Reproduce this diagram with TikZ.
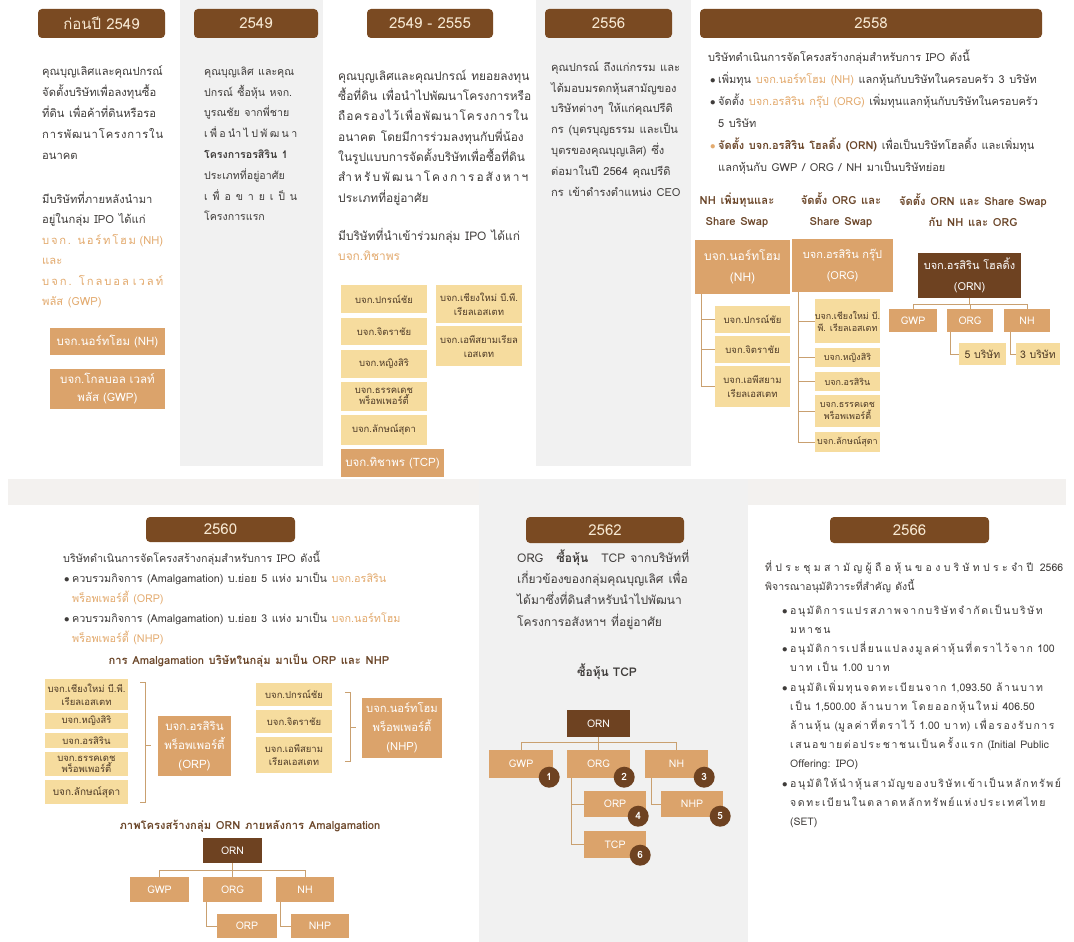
\documentclass[tikz,border=0pt]{standalone}
\usepackage{fontspec}
\setmainfont[Script=Thai]{Loma}
\newfontfamily\wfont[Script=Thai,LetterSpace=15]{Loma}
\definecolor{hdr}{HTML}{7A4A22}
\definecolor{hdrtxt}{HTML}{F7E8D2}
\definecolor{orn}{HTML}{6E4221}
\definecolor{obox}{HTML}{DBA36B}
\definecolor{ybox}{HTML}{F6DC9E}
\definecolor{hl}{HTML}{E3AA6E}
\definecolor{body}{HTML}{3F3C3A}
\definecolor{ttl}{HTML}{6A4528}
\definecolor{ln}{HTML}{C9A070}
\definecolor{pgray}{HTML}{F1F1F1}
\definecolor{band}{HTML}{F3F1EF}
\definecolor{ytxt}{HTML}{4E3A26}
\newcommand\boxnode[7]{\node[#1, minimum width={(#5-#3)*1pt}, minimum height={(#6-#4)*1pt}] (#2) at ({(#3+#5)/2},{(#4+#6)/2}) {#7};}
\newcommand\tnode[7][]{\node[txt, font={\fontsize{#5}{#6}\selectfont#1\spaceskip=0.42em plus 0.1em minus 0.05em\relax}] (#2) at (#3,{#4+3-0.7*#6}) {\strut #7};}
\newcommand\spread[2]{\makebox[#1][s]{\spaceskip=0pt plus 1fil\relax #2}}
\newcommand\blt{\makebox[8pt][l]{$\bullet$}}
\newcommand\hi[1]{\textcolor{hl}{#1}}
\newcommand\lat[1]{{\rmfamily #1}}
\tikzset{
 hdrbox/.style={fill=hdr, rounded corners=4pt, text=hdrtxt, font=\fontsize{15}{17}\selectfont, inner sep=0pt},
 obx/.style={fill=obox, text=white, inner sep=0pt, align=center, font=\fontsize{10.5}{17}\selectfont},
 ybx/.style={fill=ybox, text=ytxt, inner sep=0pt, align=center, font=\fontsize{9.5}{14}\selectfont},
 sybx/.style={ybx, font=\fontsize{9}{12}\selectfont},
 dkbx/.style={fill=orn, text=white, inner sep=0pt, align=center, font=\fontsize{10.5}{17}\selectfont},
 conn/.style={draw=ln, line width=1pt},
 txt/.style={anchor=north west, inner sep=0pt, align=left, text=body},
 ttlnode/.style={inner sep=0pt, align=center, text=ttl, font={\bfseries\fontsize{11.2}{21}\selectfont\spaceskip=0.42em plus 0.1em\relax}},
 num/.style={circle, fill=orn, text=white, inner sep=0pt, minimum size=21pt, font=\bfseries\fontsize{10}{12}\selectfont},
}
\begin{document}
\begin{tikzpicture}[x=1pt,y=-1pt]
\useasboundingbox (0,0) rectangle (1074,942);
% panels
\fill[white] (0,0) rectangle (1074,942);
\fill[pgray] (180,0) rectangle (323,466);
\fill[pgray] (536,0) rectangle (691,466);
\fill[band] (8,479) rectangle (1066,505);
\fill[pgray] (479,479) rectangle (748,942);

% ---------- column 1 ----------
\boxnode{hdrbox}{h1}{38}{9}{165}{38}{ก่อนปี 2549}
\tnode{t1a}{42}{72}{11.2}{21}{คุณบุญเลิศและคุณปกรณ์\\จัดตั้งบริษัทเพื่อลงทุนซื้อ\\ที่ดิน เพื่อค้าที่ดินหรือรอ\\\spread{121pt}{ก า ร พั ฒ น า โ ค ร ง ก า ร ใ น}\\อนาคต}
\tnode{t1b}{42}{200}{11.2}{20.5}{มีบริษัทที่ภายหลังนำมา\\อยู่ในกลุ่ม IPO ได้แก่\\\hi{\spread{121pt}{บ จ ก . น อ ร์ ท โ ฮ ม\ \ (NH)}}\\\hi{และ}\\\hi{\spread{121pt}{บ จ ก . โ ก ล บ อ ล\ \ เ ว ล ท์}}\\\hi{พลัส (GWP)}}
\boxnode{obx,font=\fontsize{11.5}{18}\selectfont}{nhA}{50}{328}{165}{355}{บจก.นอร์ทโฮม (NH)}
\boxnode{obx,font=\fontsize{11.5}{18}\selectfont}{gwpA}{50}{369}{165}{409}{บจก.โกลบอล เวลท์\\พลัส (GWP)}

% ---------- column 2 ----------
\boxnode{hdrbox}{h2}{194}{9}{318}{38}{2549}
\tnode{t2}{204}{72}{10.6}{20.8}{คุณบุญเลิศ และคุณ\\ปกรณ์ ซื้อหุ้น หจก.\\บูรณชัย จากพี่ชาย\\\spread{93pt}{เ พื่ อ นำ ไ ป พั ฒ น า}\\\textbf{โครงการอรสิริน 1}\\ประเภทที่อยู่อาศัย\\\spread{93pt}{เ พื่ อ ข า ย เ ป็ น}\\โครงการแรก}

% ---------- column 3 ----------
\boxnode{hdrbox}{h3}{367}{9}{493}{38}{2549 - 2555}
\tnode{t3a}{338}{77}{11.9}{20.3}{คุณบุญเลิศและคุณปกรณ์ ทยอยลงทุน\\ซื้อที่ดิน เพื่อนำไปพัฒนาโครงการหรือ\\\spread{190pt}{ถื อ ค ร อ ง ไ ว้ เ พื่ อ พั ฒ น า โ ค ร ง ก า ร ใ น}\\อนาคต โดยมีการร่วมลงทุนกับพี่น้อง\\ในรูปแบบการจัดตั้งบริษัทเพื่อซื้อที่ดิน\\\spread{190pt}{สำ ห รั บ พั ฒ น า โ ค ง ก า ร อ สั ง ห า ฯ}\\ประเภทที่อยู่อาศัย}
\tnode{t3b}{338}{237}{11.9}{20}{มีบริษัทที่นำเข้าร่วมกลุ่ม IPO ได้แก่\\\hi{บจก.ทิชาพร}}
\boxnode{ybx}{c3a}{341}{285}{427}{313}{บจก.ปกรณ์ชัย}
\boxnode{ybx}{c3b}{341}{318}{427}{345}{บจก.จิตราชัย}
\boxnode{ybx}{c3c}{341}{350}{427}{378}{บจก.หญิงสิริ}
\boxnode{ybx,font=\fontsize{9.5}{11}\selectfont}{c3d}{341}{382}{427}{411}{บจก.ธรรคเดช\\พร็อพเพอร์ตี้}
\boxnode{ybx}{c3e}{341}{415}{427}{445}{บจก.ลักษณ์สุดา}
\boxnode{obx,font=\fontsize{11.5}{18}\selectfont}{c3f}{341}{449}{444}{477}{บจก.ทิชาพร (TCP)}
\boxnode{ybx}{c3g}{436}{285}{522}{323}{บจก.เชียงใหม่ บี.พี.\\เรียลเอสเตท}
\boxnode{ybx}{c3h}{436}{326}{522}{366}{บจก.เอพีสยามเรียล\\เอสเตท}

% ---------- column 4 ----------
\boxnode{hdrbox}{h4}{545}{9}{672}{38}{2556}
\tnode{t4}{551}{68}{11.1}{20.8}{คุณปกรณ์ ถึงแก่กรรม และ\\ได้มอบมรดกหุ้นสามัญของ\\บริษัทต่างๆ ให้แก่คุณปรีดิ\\กร (บุตรบุญธรรม และเป็น\\บุตรของคุณบุญเลิศ) ซึ่ง\\ต่อมาในปี 2564 คุณปรีดิ\\กร เข้าดำรงตำแหน่ง CEO}

% ---------- column 5 ----------
\boxnode{hdrbox}{h5}{700}{9}{1042}{38}{2558}
\tnode{t5}{708}{58}{11}{22}{บริษัทดำเนินการจัดโครงสร้างกลุ่มสำหรับการ IPO ดังนี้\\
\hspace*{2pt}\blt เพิ่มทุน \hi{บจก.นอร์ทโฮม (NH)} แลกหุ้นกับบริษัทในครอบครัว 3 บริษัท\\
\hspace*{2pt}\blt จัดตั้ง \hi{บจก.อรสิริน กรุ๊ป (ORG)} เพิ่มทุนแลกหุ้นกับบริษัทในครอบครัว\\
\hspace*{10pt}5 บริษัท\\
\hspace*{2pt}\hi{\blt}\textbf{\textcolor{ttl}{จัดตั้ง บจก.อรสิริน โฮลดิ้ง (ORN)}} เพื่อเป็นบริษัทโฮลดิ้ง และเพิ่มทุน\\
\hspace*{10pt}แลกหุ้นกับ GWP / ORG / NH มาเป็นบริษัทย่อย}
\node[ttlnode] (s1) at (737,210) {NH เพิ่มทุนและ\\Share Swap};
\node[ttlnode] (s2) at (841,210) {จัดตั้ง ORG และ\\Share Swap};
\node[ttlnode] (s3) at (973,210) {จัดตั้ง ORN และ Share Swap\\กับ NH และ ORG};

% NH tree
\boxnode{obx,font=\fontsize{12}{21}\selectfont}{nhB}{695}{240}{790}{294}{บจก.นอร์ทโฮม\\(NH)}
\boxnode{ybx}{nb1}{715}{306}{790}{333}{บจก.ปกรณ์ชัย}
\boxnode{ybx}{nb2}{715}{336}{790}{363}{บจก.จิตราชัย}
\boxnode{ybx}{nb3}{715}{366}{790}{407}{บจก.เอพีสยาม\\เรียลเอสเตท}
\draw[conn] ([xshift=7pt]nhB.south west) |- (nb1.west);
\draw[conn] ([xshift=7pt]nhB.south west) |- (nb2.west);
\draw[conn] ([xshift=7pt]nhB.south west) |- (nb3.west);

% ORG tree
\boxnode{obx,font=\fontsize{11}{21}\selectfont}{orgB}{792}{239}{893}{292}{บจก.อรสิริน กรุ๊ป\\(ORG)}
\boxnode{sybx}{ob1}{815}{299}{880}{343}{บจก.เชียงใหม่ บี.\\พี. เรียลเอสเตท}
\boxnode{sybx}{ob2}{815}{348}{880}{367}{บจก.หญิงสิริ}
\boxnode{sybx}{ob3}{815}{372}{880}{391}{บจก.อรสิริน}
\boxnode{sybx}{ob4}{815}{395}{880}{427}{บจก.ธรรคเดช\\พร็อพเพอร์ตี้}
\boxnode{sybx}{ob5}{815}{432}{880}{452}{บจก.ลักษณ์สุดา}
\foreach \c in {ob1,ob2,ob3,ob4,ob5}{\draw[conn] ([xshift=7pt]orgB.south west) |- (\c.west);}

% ORN tree
\boxnode{dkbx,font=\fontsize{11}{21}\selectfont}{ornB}{918}{253}{1021}{298}{บจก.อรสิริน โฮลดิ้ง\\(ORN)}
\boxnode{obx}{gwpB}{889}{309}{937}{332}{GWP}
\boxnode{obx}{orgC}{947}{309}{993}{332}{ORG}
\boxnode{obx}{nhC}{1004}{309}{1050}{332}{NH}
\draw[conn] (ornB.south) -- ++(0,6) -| (gwpB.north);
\draw[conn] (ornB.south) -- ++(0,6) -| (nhC.north);
\draw[conn] (ornB.south) -- ++(0,6) -| (orgC.north);
\boxnode{ybx,font=\fontsize{10.5}{14}\selectfont}{b5}{959}{343}{1006}{365}{5 บริษัท}
\boxnode{ybx,font=\fontsize{10.5}{14}\selectfont}{b3}{1016}{343}{1060}{365}{3 บริษัท}
\draw[conn] ([xshift=4pt]orgC.south west) |- (b5.west);
\draw[conn] ([xshift=7pt]nhC.south west) |- (b3.west);

% ---------- 2560 ----------
\boxnode{hdrbox}{h6}{146}{517}{295}{542}{2560}
\tnode{t6}{63}{559}{10.8}{20}{บริษัทดำเนินการจัดโครงสร้างกลุ่มสำหรับการ IPO ดังนี้\\
\hspace*{1pt}\blt ควบรวมกิจการ (Amalgamation) บ.ย่อย 5 แห่ง มาเป็น \hi{บจก.อรสิริน}\\
\hspace*{9pt}\hi{พร็อพเพอร์ตี้ (ORP)}\\
\hspace*{1pt}\blt ควบรวมกิจการ (Amalgamation) บ.ย่อย 3 แห่ง มาเป็น \hi{บจก.นอร์ทโฮม}\\
\hspace*{9pt}\hi{พร็อพเพอร์ตี้ (NHP)}}
\node[ttlnode] (ttl1) at (249,661) {การ Amalgamation บริษัทในกลุ่ม มาเป็น ORP และ NHP};
\boxnode{ybx,font=\fontsize{9.5}{13}\selectfont}{ya1}{45}{679}{128}{710}{บจก.เชียงใหม่ บี.พี.\\เรียลเอสเตท}
\boxnode{ybx}{ya2}{45}{713}{128}{729}{บจก.หญิงสิริ}
\boxnode{ybx}{ya3}{45}{733}{128}{748}{บจก.อรสิริน}
\boxnode{ybx,font=\fontsize{9.5}{11}\selectfont}{ya4}{45}{752}{128}{776}{บจก.ธรรคเดช\\พร็อพเพอร์ตี้}
\boxnode{ybx,font=\fontsize{10}{14}\selectfont}{ya5}{45}{780}{128}{804}{บจก.ลักษณ์สุดา}
\boxnode{obx,font=\fontsize{11.5}{19}\selectfont}{orp1}{158}{716}{231}{776}{บจก.อรสิริน\\พร็อพเพอร์ตี้\\(ORP)}
\draw[conn] (140,682) -- (145,682) -- (145,802) -- (140,802);
\draw[conn] (145,745) -- (151,745);
\boxnode{ybx}{yb1}{256}{683}{332}{706}{บจก.ปกรณ์ชัย}
\boxnode{ybx}{yb2}{256}{710}{332}{733}{บจก.จิตราชัย}
\boxnode{ybx,font=\fontsize{9.5}{13}\selectfont}{yb3}{256}{737}{332}{773}{บจก.เอพีสยาม\\เรียลเอสเตท}
\boxnode{obx,font=\fontsize{11.2}{19}\selectfont}{nhp1}{362}{698}{442}{758}{บจก.นอร์ทโฮม\\พร็อพเพอร์ตี้\\(NHP)}
\draw[conn] (345,692) -- (350,692) -- (350,761) -- (345,761);
\draw[conn] (350,727) -- (356,727);
\node[ttlnode] (ttl2) at (250,826) {ภาพโครงสร้างกลุ่ม ORN ภายหลังการ Amalgamation};
\boxnode{dkbx}{orn2}{203}{838}{262}{863}{ORN}
\boxnode{obx}{gwp2}{130}{877}{189}{902}{GWP}
\boxnode{obx}{org2}{203}{877}{262}{902}{ORG}
\boxnode{obx}{nh2}{276}{877}{334}{902}{NH}
\boxnode{obx}{orp2}{217}{914}{277}{938}{ORP}
\boxnode{obx}{nhp2}{291}{914}{349}{938}{NHP}
\draw[conn] (orn2.south) -- ++(0,7) -| (gwp2.north);
\draw[conn] (orn2.south) -- ++(0,7) -| (nh2.north);
\draw[conn] (orn2.south) -- (org2.north);
\draw[conn] ([xshift=4pt]org2.south west) |- (orp2.west);
\draw[conn] ([xshift=5pt]nh2.south west) |- (nhp2.west);

% ---------- 2562 ----------
\boxnode{hdrbox}{h7}{526}{517}{684}{543}{2562}
\tnode{t7}{517}{559}{12}{21.3}{\makebox[172pt][l]{ORG\hfill\textbf{ซื้อหุ้น}\hfill TCP จากบริษัทที่}\\เกี่ยวข้องของกลุ่มคุณบุญเลิศ เพื่อ\\ได้มาซึ่งที่ดินสำหรับนำไปพัฒนา\\โครงการอสังหาฯ ที่อยู่อาศัย}
\node[ttlnode, text=body, font=\bfseries\fontsize{12}{14}\selectfont] (ttl3) at (607,672) {ซื้อหุ้น TCP};
\boxnode{dkbx}{orn3}{567}{710}{630}{737}{ORN}
\boxnode{obx}{gwp3}{489}{750}{553}{778}{GWP}
\boxnode{obx}{org3}{567}{750}{630}{778}{ORG}
\boxnode{obx}{nh3}{645}{750}{708}{778}{NH}
\boxnode{obx}{orp3}{584}{791}{646}{817}{ORP}
\boxnode{obx}{nhp3}{661}{791}{723}{817}{NHP}
\boxnode{obx}{tcp3}{584}{831}{646}{858}{TCP}
\draw[conn] (orn3.south) -- ++(0,5) -| (gwp3.north);
\draw[conn] (orn3.south) -- ++(0,5) -| (nh3.north);
\draw[conn] (orn3.south) -- (org3.north);
\draw[conn] ([xshift=5pt]org3.south west) |- (orp3.west);
\draw[conn] ([xshift=5pt]org3.south west) |- (tcp3.west);
\draw[conn] ([xshift=7pt]nh3.south west) |- (nhp3.west);
\node[num] (n1) at ([shift={(-4,-1)}]gwp3.south east) {1};
\node[num] (n2) at ([shift={(-6,-1)}]org3.south east) {2};
\node[num] (n3) at ([shift={(-4,-1)}]nh3.south east) {3};
\node[num] (n4) at ([shift={(-8,-1)}]orp3.south east) {4};
\node[num] (n5) at ([shift={(-3,-1)}]nhp3.south east) {5};
\node[num] (n6) at ([shift={(-6,-3)}]tcp3.south east) {6};

% ---------- 2566 ----------
\boxnode{hdrbox}{h8}{830}{517}{989}{543}{2566}
\tnode{t8a}{765}{568}{10.5}{19.2}{\spread{298pt}{ที่ ป ร ะ ชุ ม ส า มั ญ ผู้ ถื อ หุ้ น ข อ ง บ ริ ษั ท ป ร ะ จำ ปี\ \ 2566}\\พิจารณาอนุมัติวาระที่สำคัญ ดังนี้}
\tnode[\wfont]{t8b}{782}{611}{10.5}{19.2}{\blt อนุมัติการแปรสภาพจากบริษัทจำกัดเป็นบริษัท\\
\hspace*{8pt}มหาชน\\
\blt อนุมัติการเปลี่ยนแปลงมูลค่าหุ้นที่ตราไว้จาก \lat{100}\\
\hspace*{8pt}บาท เป็น \lat{1.00} บาท\\
\blt อนุมัติเพิ่มทุนจดทะเบียนจาก \lat{1,093.50} ล้านบาท\\
\hspace*{8pt}เป็น \lat{1,500.00} ล้านบาท โดยออกหุ้นใหม่ \lat{406.50}\\
\hspace*{8pt}ล้านหุ้น \lat{(}มูลค่าที่ตราไว้ \lat{1.00} บาท\lat{)} เพื่อรองรับการ\\
\hspace*{8pt}เสนอขายต่อประชาชนเป็นครั้งแรก \lat{(Initial Public}\\
\hspace*{8pt}\lat{Offering: IPO)}\\
\blt อนุมัติให้นำหุ้นสามัญของบริษัทเข้าเป็นหลักทรัพย์\\
\hspace*{8pt}จดทะเบียนในตลาดหลักทรัพย์แห่งประเทศไทย\\
\hspace*{8pt}\lat{(SET)}}
\end{tikzpicture}
\end{document}
